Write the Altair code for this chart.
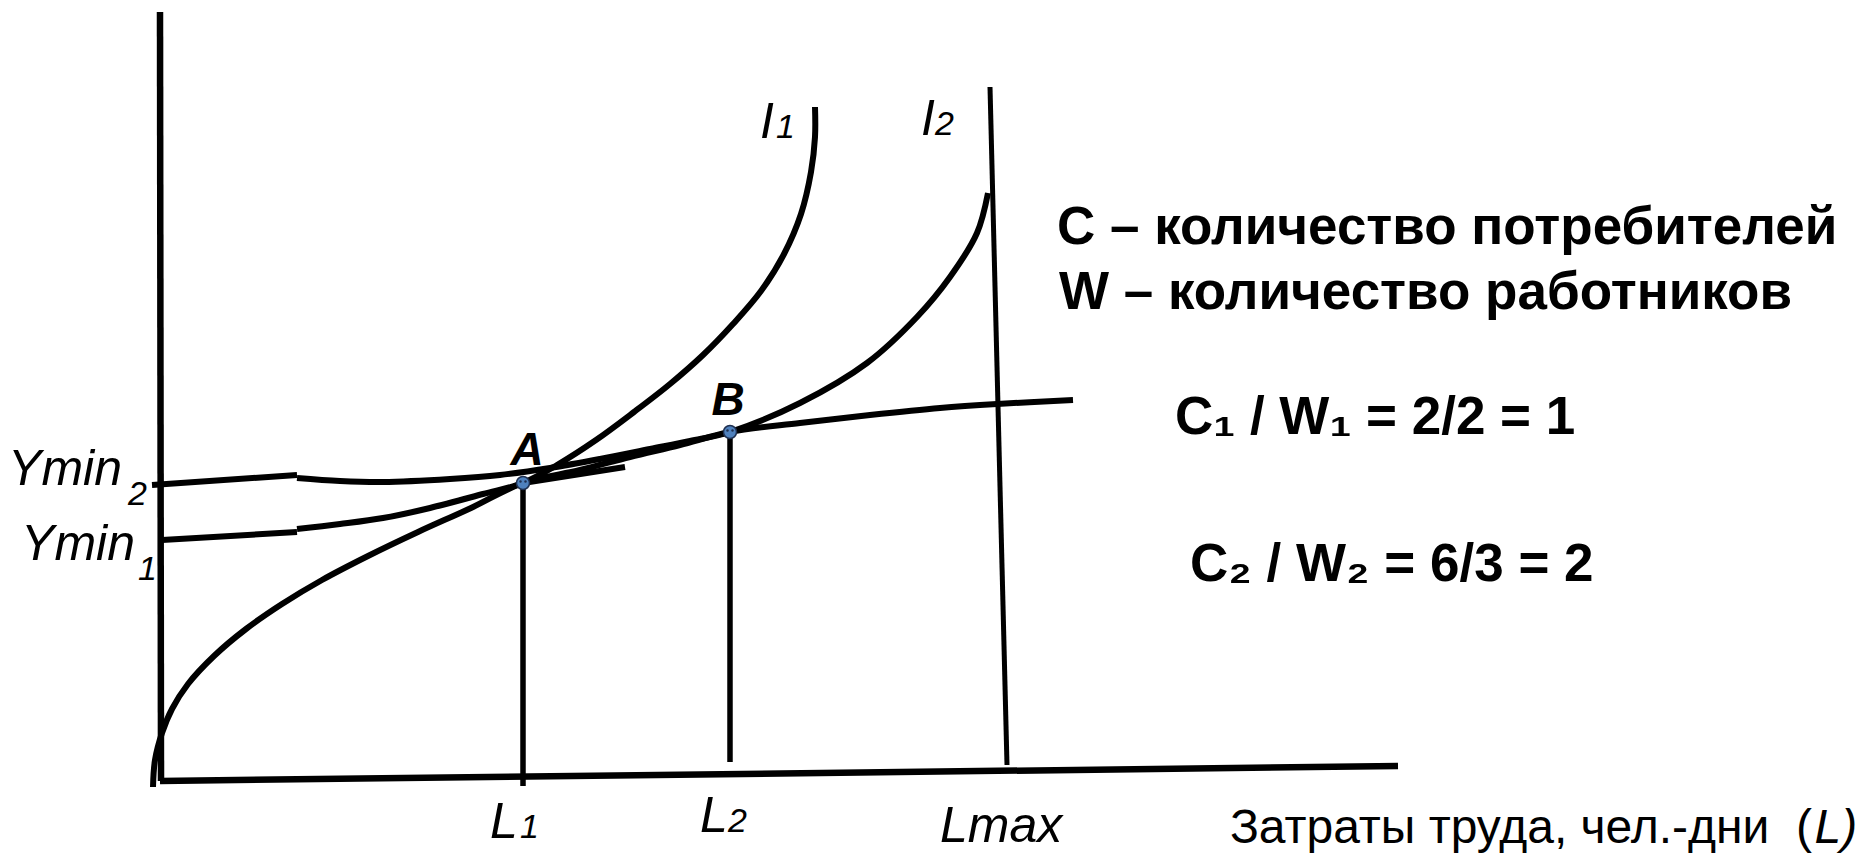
import altair as alt
import pandas as pd

# ---------------- data ----------------
# x = labour input L, y = output / income Y (arbitrary units)

# coordinate axes (hand-drawn, slightly slanted)
axis_names = ["Y", "L"]
axis_x = [[-0.2, -0.1], [-0.2, 123.6]]
axis_y = [[76.8, -0.1], [-0.1, 1.4]]

# maximum labour capacity line Lmax
lmax_x = [82.8, 84.5]
lmax_y = [69.3, 1.5]

# production function (concave, from the origin through A and B)
prod_x = [-0.9, -0.7, 0.0, 1.0, 2.6, 5.2, 8.4, 12.0, 16.0, 20.6, 25.6, 30.9,
          36.1, 41.8, 46.8, 51.8, 56.8, 63.8, 70.8, 77.8, 83.5, 91.1]
prod_y = [-0.7, 2.0, 4.7, 7.1, 9.6, 12.4, 15.1, 17.6, 20.0, 22.4, 24.8, 27.2,
          29.7, 31.0, 32.3, 33.5, 34.8, 35.7, 36.5, 37.2, 37.6, 38.0]

# short tangent stub at A
stub_x = [36.1, 46.3]
stub_y = [29.7, 31.3]

# indifference curve I1 (starts at Ymin1)
ymin1_x = [0.0, 13.5]
ymin1_y = [24.0, 24.8]
i1_x = [13.5, 17.8, 22.1, 26.8, 32.1, 36.1, 39.5, 43.4, 47.2, 50.8, 54.1,
        57.1, 59.9, 62.2, 63.9, 64.9, 65.3, 65.3]
i1_y = [25.1, 25.6, 26.2, 27.2, 28.6, 29.7, 31.5, 34.0, 36.8, 39.6, 42.5,
        45.6, 48.9, 52.6, 56.6, 60.8, 64.3, 67.3]

# indifference curve I2 (starts at Ymin2)
ymin2_x = [-1.0, 13.5]
ymin2_y = [29.5, 30.5]
i2_x = [13.5, 17.8, 22.1, 28.8, 33.8, 38.8, 43.8, 48.8, 52.8, 56.8, 63.8,
        70.5, 75.5, 78.8, 81.5, 82.6]
i2_y = [30.2, 29.9, 29.8, 30.1, 30.5, 31.2, 32.1, 33.1, 33.9, 34.8, 37.7,
        41.7, 46.3, 50.3, 54.7, 58.7]

# equilibrium points A, B and their drop lines to L1, L2
pt_names = ["A", "B"]
pt_x = [36.1, 56.8]
pt_y = [29.7, 34.8]
drop_bottom = [-0.6, 1.8]

# ---------------- text ----------------
ymin_text = ["Ymin", "Ymin"]
ymin_lx = [-4.0, -2.7]
ymin_ly = [29.5, 22.0]

ital_text = ["I", "I", "L", "L", "Lmax"]
ital_lx = [59.8, 75.9, 32.8, 53.8, 77.8]
ital_ly = [64.2, 64.5, -5.8, -5.2, -6.2]

sub_text = ["2", "1", "1", "2", "1", "2"]
sub_lx = [-3.4, -2.4, 61.4, 77.3, 35.8, 56.6]
sub_ly = [27.5, 20.0, 64.2, 64.5, -5.8, -5.2]

pt_lx = [36.5, 56.6]
pt_ly = [31.5, 36.5]

info_text = ["C – количество потребителей", "W – количество работников",
             "C₁ / W₁ = 2/2 = 1", "C₂ / W₂ = 6/3 = 2"]
info_lx = [89.5, 89.7, 101.3, 102.8]
info_ly = [53.6, 47.1, 34.6, 19.9]

xtitle_text = ["Затраты труда, чел.-дни \u00a0("]
xtitle_lx = [165.0]
xtitle_ly = [-6.3]
xtitle_l = ["L)"]
xtitle_l_x = [165.25]
xtitle_l_y = [-6.3]

# ---------------- build tables ----------------
def series(name, xs, ys):
    return pd.DataFrame({"s": name, "i": list(range(len(xs))), "x": xs, "y": ys})

axes_df = pd.concat([series(n, xs, ys) for n, xs, ys in zip(axis_names, axis_x, axis_y)])
curves_df = pd.concat([
    series("prod", prod_x, prod_y),
    series("I1", i1_x, i1_y),
    series("I2", i2_x, i2_y),
])
straight_df = pd.concat([
    series("stub", stub_x, stub_y),
    series("ymin1", ymin1_x, ymin1_y),
    series("ymin2", ymin2_x, ymin2_y),
])
lmax_df = series("Lmax", lmax_x, lmax_y)
drop_df = pd.DataFrame({"s": pt_names, "x": pt_x, "y": pt_y, "y2": drop_bottom})
pts_df = pd.DataFrame({"s": pt_names, "x": pt_x, "y": pt_y})

FONT = "Liberation Sans"
XS = alt.Scale(domain=[-15.4, 169.6], nice=False, zero=False)
YS = alt.Scale(domain=[-7.3, 77.2], nice=False, zero=False)


def xy(xf="x", yf="y"):
    return dict(x=alt.X(f"{xf}:Q", scale=XS, axis=None),
                y=alt.Y(f"{yf}:Q", scale=YS, axis=None))


axes_layer = alt.Chart(axes_df).mark_line(color="black", strokeWidth=6.5).encode(
    detail="s:N", order="i:Q", **xy())
curves_layer = alt.Chart(curves_df).mark_line(
    color="black", strokeWidth=6, strokeJoin="round", interpolate="catmull-rom").encode(
    detail="s:N", order="i:Q", **xy())
straight_layer = alt.Chart(straight_df).mark_line(
    color="black", strokeWidth=6).encode(detail="s:N", order="i:Q", **xy())
lmax_layer = alt.Chart(lmax_df).mark_line(color="black", strokeWidth=5).encode(
    order="i:Q", **xy())
drop_layer = alt.Chart(drop_df).mark_rule(color="black", strokeWidth=5.5).encode(
    y2="y2:Q", **xy())
pts_layer = alt.Chart(pts_df).mark_circle(
    size=170, color="#4F81BD", opacity=1, stroke="#1F3050", strokeWidth=1.5).encode(**xy())
eye_l = alt.Chart(pts_df).mark_circle(
    size=6, color="#1F3050", opacity=1, xOffset=-2.5, yOffset=-1.5).encode(**xy())
eye_r = alt.Chart(pts_df).mark_circle(
    size=6, color="#1F3050", opacity=1, xOffset=2.5, yOffset=-1.5).encode(**xy())


def text_layer(texts, xs, ys, **props):
    df = pd.DataFrame({"t": texts, "x": xs, "y": ys})
    return alt.Chart(df).mark_text(font=FONT, color="black", baseline="alphabetic",
                                   **props).encode(text="t:N", **xy())


ymin_layer = text_layer(ymin_text, ymin_lx, ymin_ly, align="right",
                        fontSize=50, fontStyle="italic")
ital_layer = text_layer(ital_text, ital_lx, ital_ly, align="left",
                        fontSize=50, fontStyle="italic")
sub_layer = text_layer(sub_text, sub_lx, sub_ly, align="left",
                       fontSize=34, fontStyle="italic")
ab_layer = text_layer(pt_names, pt_lx, pt_ly, align="center",
                      fontSize=46, fontStyle="italic", fontWeight="bold")
info_layer = text_layer(info_text, info_lx, info_ly, align="left",
                        fontSize=53, fontWeight="bold")
xtitle_layer = text_layer(xtitle_text, xtitle_lx, xtitle_ly, align="right",
                          fontSize=48)
xtitle_l_layer = text_layer(xtitle_l, xtitle_l_x, xtitle_l_y, align="left",
                            fontSize=48, fontStyle="italic")

chart = alt.layer(
    axes_layer, lmax_layer, drop_layer, curves_layer, straight_layer,
    pts_layer, eye_l, eye_r,
    ymin_layer, ital_layer, sub_layer, ab_layer, info_layer,
    xtitle_layer, xtitle_l_layer,
).properties(
    width=1850, height=845,
    autosize=alt.AutoSizeParams(type="none"),
    padding=0,
    background="white",
).configure_view(stroke=None)

chart.save("out.html", embed_options={"renderer": "svg", "actions": False})
